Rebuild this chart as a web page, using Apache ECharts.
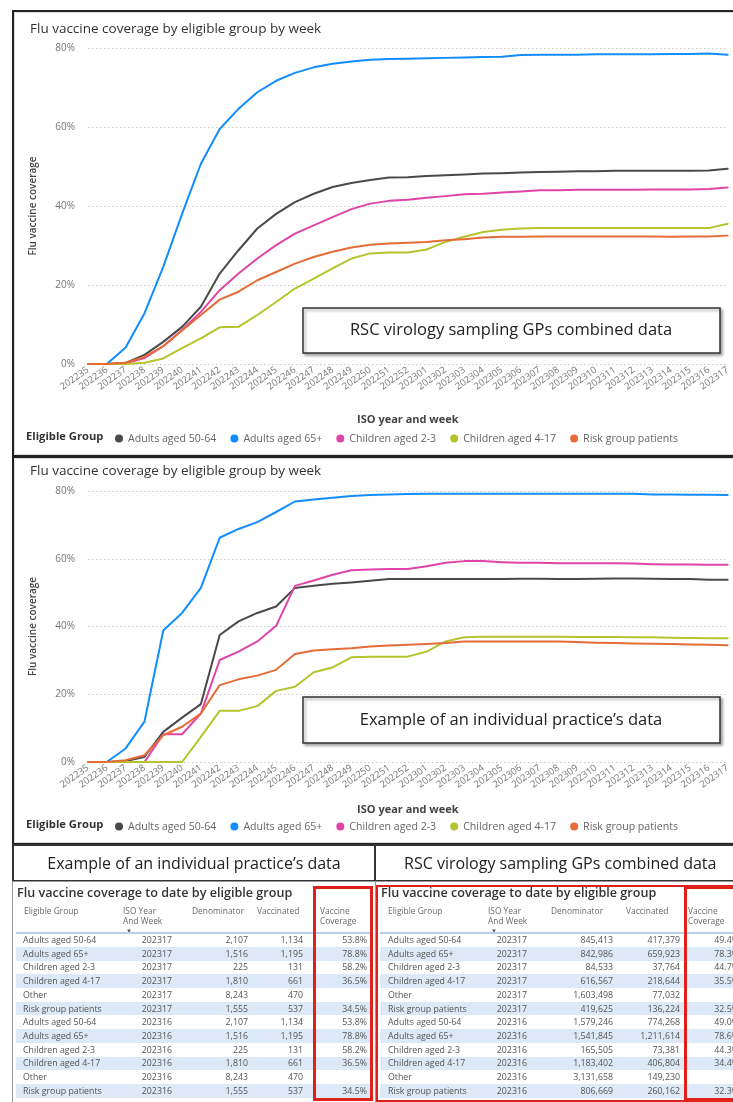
<!DOCTYPE html>
<html><head><meta charset="utf-8">
<script src="https://cdn.jsdelivr.net/npm/echarts@6/dist/echarts.min.js"></script>
<style>
body{margin:0;width:733px;height:1102px;overflow:hidden;position:relative;background:#fff;font-family:'Open Sans',sans-serif;}
.box{position:absolute;box-sizing:border-box;}
.chart{position:absolute;left:0;width:733px;}
.t{position:absolute;white-space:nowrap;font-size:8.8px;color:#555;line-height:10px;}
.h{position:absolute;white-space:nowrap;font-size:8.4px;color:#6a6a6a;line-height:10px;}
</style></head><body>

<div class="box" style="left:12px;top:10px;width:740px;height:447px;border:2px solid #222;box-shadow:inset 0 0 0 1px #ddd;"></div>
<div class="box" style="left:12px;top:456px;width:740px;height:389px;border:2px solid #222;box-shadow:inset 0 0 0 1px #ddd;"></div>

<div id="c1" class="chart" style="top:0;height:456px;"></div>
<div id="c2" class="chart" style="top:456px;height:390px;"></div>

<div class="box" style="left:12px;top:844px;width:364px;height:38px;border:2px solid #333;display:flex;align-items:center;justify-content:center;font-size:16px;font-weight:500;color:#222;">Example of an individual practice’s data</div>
<div class="box" style="left:374px;top:844px;width:380px;height:38px;border:2px solid #333;display:flex;align-items:center;justify-content:flex-start;padding-left:28px;font-size:16px;font-weight:500;color:#222;">RSC virology sampling GPs combined data</div>
<div class="box" style="left:12px;top:881px;width:364px;height:230px;border:1.5px solid #999;"></div>
<div class="box" style="left:375px;top:881px;width:380px;height:230px;border:1.5px solid #999;"></div>

<div id="tables"></div>

<script>
// ---------- chart data ----------
const weeks = ['202235','202236','202237','202238','202239','202240','202241','202242','202243','202244','202245','202246','202247','202248','202249','202250','202251','202252',
  '202301','202302','202303','202304','202305','202306','202307','202308','202309','202310','202311','202312','202313','202314','202315','202316','202317'];
const groups = ['Adults aged 50-64','Adults aged 65+','Children aged 2-3','Children aged 4-17','Risk group patients'];
const colors = ['#4a4a4a','#118DFF','#E044A7','#B5C42C','#E66C37'];
const yTicks = [0,20,40,60,80];

// RSC virology sampling GPs combined data (%)
const combined5064 = [0,0,0.3,2.3,5.6,9.4,14.5,22.9,28.8,34.3,38,41,43.1,44.8,45.8,46.6,47.2,47.3,47.6,47.8,48,48.2,48.3,48.5,48.6,48.7,48.8,48.8,48.9,48.9,48.9,48.9,48.9,49.0,49.4];
const combined65 = [0,0,4.2,12.8,24.6,38,50.7,59.5,64.6,68.8,71.7,73.7,75.1,76,76.6,77,77.2,77.3,77.4,77.5,77.6,77.7,77.8,78.2,78.3,78.3,78.3,78.4,78.4,78.4,78.4,78.5,78.5,78.6,78.3];
const combined23 = [0,0,0.2,1.5,4.5,8.6,13.2,18.7,22.9,26.7,30.1,33,35.1,37.2,39.2,40.6,41.3,41.6,42.1,42.5,43,43.1,43.4,43.7,44,44,44.1,44.1,44.1,44.1,44.2,44.2,44.2,44.3,44.7];
const combined417 = [0,0,0,0.3,1.4,4,6.5,9.3,9.4,12.4,15.7,19.1,21.6,24.2,26.7,28,28.2,28.2,29,30.9,32.2,33.4,34,34.3,34.4,34.4,34.4,34.4,34.4,34.4,34.4,34.4,34.4,34.4,35.5];
const combinedRisk = [0,0,0.3,1.8,4.5,8.5,12.4,16.3,18.3,21.2,23.3,25.4,27.1,28.4,29.5,30.2,30.5,30.7,30.9,31.3,31.6,32,32.2,32.2,32.3,32.3,32.3,32.3,32.3,32.3,32.3,32.2,32.3,32.3,32.5];

// Individual practice data (%)
const practice5064 = [0,0,0.3,1.5,8.9,13.1,17.1,37.5,41.5,44,45.9,51.4,52,52.6,53,53.5,54,54,54,54,54,54,54,54.1,54.1,54,54,54.1,54.2,54.2,54.1,54,54,53.8,53.8];
const practice65 = [0,0,4,11.9,38.8,44,51.4,66.2,68.8,70.8,73.8,76.9,77.5,78,78.5,78.8,79,79.1,79.2,79.2,79.2,79.2,79.2,79.2,79.2,79.2,79.2,79.2,79.2,79.2,79,79,78.9,78.9,78.8];
const practice23 = [0,0,0,0,8.2,8.2,14.3,30.1,32.6,35.6,40.2,52,53.6,55.3,56.6,56.8,57,57,57.8,58.8,59.3,59.3,59,58.8,58.8,58.7,58.7,58.7,58.7,58.6,58.4,58.3,58.3,58.2,58.2];
const practice417 = [0,0,0,0,0,0,7.4,15.1,15.1,16.5,21,22.2,26.5,27.9,30.9,31.1,31.1,31.1,32.6,35.6,36.8,37,37,37,37,37,36.9,36.9,36.9,36.8,36.8,36.7,36.6,36.5,36.5];
const practiceRisk = [0,0,0.5,2,7.9,10.4,14.3,22.7,24.4,25.5,27.2,31.9,32.9,33.3,33.6,34.1,34.4,34.6,34.8,35.1,35.6,35.6,35.6,35.6,35.6,35.6,35.4,35.2,35.1,35,34.9,34.8,34.7,34.6,34.5];

// ---------- table data ----------
const tableGroups = ['Adults aged 50-64','Adults aged 65+','Children aged 2-3','Children aged 4-17','Other','Risk group patients',
  'Adults aged 50-64','Adults aged 65+','Children aged 2-3','Children aged 4-17','Other','Risk group patients'];
const tableWeeks = ['202317','202317','202317','202317','202317','202317','202316','202316','202316','202316','202316','202316'];
const practiceDenominator = [2107,1516,225,1810,8243,1555,2107,1516,225,1810,8243,1555];
const practiceVaccinated = [1134,1195,131,661,470,537,1134,1195,131,661,470,537];
const practiceCoverage = ['53.8%','78.8%','58.2%','36.5%','','34.5%','53.8%','78.8%','58.2%','36.5%','','34.5%'];
const combinedDenominator = [845413,842986,84533,616567,1603498,419625,1579246,1541845,165505,1183402,3131658,806669];
const combinedVaccinated = [417379,659923,37764,218644,77032,136224,774268,1211614,73381,406804,149230,260162];
const combinedCoverage = ['49.4%','78.3%','44.7%','35.5%','','32.5%','49.0%','78.6%','44.3%','34.4%','','32.3%'];

const FONT = "'Open Sans', sans-serif";

function makeOption(series, L) {
  return {
    animation: false,
    textStyle: {fontFamily: FONT},
    title: {text: 'Flu vaccine coverage by eligible group by week', left: 25, top: L.titleTop,
      textStyle: {fontSize: 13.5, fontWeight: 'normal', color: '#333', fontFamily: FONT}},
    grid: {left: 88, width: 642, top: L.gridTop, height: L.gridH},
    legend: {left: 115, top: L.legendTop, icon: 'circle', itemWidth: 8, itemHeight: 8, itemGap: 14, padding: 0,
      textStyle: {fontSize: 10.6, color: '#666', fontFamily: FONT}, data: groups},
    xAxis: {type: 'category', data: weeks, boundaryGap: false,
      axisLine: {show: false}, axisTick: {show: false},
      axisLabel: {rotate: 35, interval: 0, fontSize: 9.5, color: '#777', margin: 5, fontFamily: FONT},
      name: 'ISO year and week', nameLocation: 'middle', nameGap: L.nameGap,
      nameTextStyle: {fontSize: 11, fontWeight: 'bold', color: '#444', fontFamily: FONT}},
    yAxis: {type: 'value', min: yTicks[0], max: yTicks[yTicks.length-1], interval: 20,
      axisLabel: {formatter: '{value}%', fontSize: 10, color: '#777', margin: 13, fontFamily: FONT},
      splitLine: {lineStyle: {type: [1.5, 2.5], color: '#c8c8c8', width: 1}},
      name: 'Flu vaccine coverage', nameLocation: 'middle', nameGap: 50,
      nameTextStyle: {fontSize: 10, fontWeight: 600, color: '#444', fontFamily: FONT}},
    series: series.map((d, i) => ({name: groups[i], type: 'line', data: d, symbol: 'none',
      lineStyle: {width: 2, color: colors[i], cap: 'round', join: 'round'}, itemStyle: {color: colors[i]}})),
    graphic: [
      {type: 'text', left: 26, top: L.legendTop - 1.5, style: {text: 'Eligible Group', fontSize: 11.2, fontWeight: 'bold', fill: '#333', fontFamily: FONT}},
      {type: 'rect', shape: {x: 303, y: L.boxY, width: 417, height: L.boxH},
        style: {fill: '#fff', stroke: '#333', lineWidth: 1.5, shadowBlur: 3, shadowColor: 'rgba(0,0,0,0.35)', shadowOffsetX: 2, shadowOffsetY: 2}, z: 100},
      {type: 'text', x: 511, y: L.boxY + L.boxH/2, z: 101,
        style: {text: L.boxText, fontSize: 16.5, fill: '#222', align: 'center', verticalAlign: 'middle', fontFamily: FONT}}
    ]
  };
}

const c1 = echarts.init(document.getElementById('c1'));
c1.setOption(makeOption([combined5064, combined65, combined23, combined417, combinedRisk],
  {titleTop: 17, gridTop: 48, gridH: 316, legendTop: 433, nameGap: 50, boxY: 308, boxH: 45, boxText: 'RSC virology sampling GPs combined data'}));
const c2 = echarts.init(document.getElementById('c2'));
c2.setOption(makeOption([practice5064, practice65, practice23, practice417, practiceRisk],
  {titleTop: 3, gridTop: 35, gridH: 271, legendTop: 365, nameGap: 42, boxY: 241, boxH: 46, boxText: 'Example of an individual practice’s data'}));

// ---------- tables ----------
const host = document.getElementById('tables');
function add(html){ host.insertAdjacentHTML('beforeend', html); }
function fmt(n){ return n.toLocaleString('en-GB'); }
function buildTable(T, den, vac, cov) {
  add(`<div class="t" style="left:${T.x0+4}px;top:885px;font-size:12.6px;font-weight:600;color:#333;line-height:15px;">Flu vaccine coverage to date by eligible group</div>`);
  add(`<div class="h" style="left:${T.hName}px;top:906px;">Eligible Group</div>`);
  add(`<div class="h" style="left:${T.hIso}px;top:906px;">ISO Year<br>And Week</div>`);
  add(`<div class="h" style="left:${T.hIso+3}px;top:926px;font-size:6px;color:#555;">▼</div>`);
  add(`<div class="h" style="left:${T.hDen}px;top:906px;">Denominator</div>`);
  add(`<div class="h" style="left:${T.hVac}px;top:906px;">Vaccinated</div>`);
  add(`<div class="h" style="left:${T.hCov}px;top:906px;">Vaccine<br>Coverage</div>`);
  add(`<div class="box" style="left:${T.x0+3}px;top:932px;width:${T.w-6}px;height:1.5px;background:#b9cfe9;"></div>`);
  for (let k = 0; k < tableGroups.length; k++) {
    const yc = 940 + 13.7*k, top = yc - 5;
    if (k % 2 === 1) add(`<div class="box" style="left:${T.x0+3}px;top:${yc-6.8}px;width:${T.w-6}px;height:13.7px;background:#dde9f6;"></div>`);
    add(`<div class="t" style="left:${T.vName}px;top:${top}px;">${tableGroups[k]}</div>`);
    add(`<div class="t" style="right:${733-T.vIso}px;top:${top}px;">${tableWeeks[k]}</div>`);
    add(`<div class="t" style="right:${733-T.vDen}px;top:${top}px;">${fmt(den[k])}</div>`);
    add(`<div class="t" style="right:${733-T.vVac}px;top:${top}px;">${fmt(vac[k])}</div>`);
    if (cov[k]) add(`<div class="t" style="left:${T.vCov-40}px;width:40px;text-align:right;top:${top}px;">${cov[k]}</div>`);
  }
}
buildTable({x0: 13, w: 362, hName: 24, hIso: 123, hDen: 192, hVac: 257, hCov: 320, vName: 23, vIso: 172, vDen: 248, vVac: 303, vCov: 367},
  practiceDenominator, practiceVaccinated, practiceCoverage);
buildTable({x0: 377, w: 380, hName: 388, hIso: 488, hDen: 551, hVac: 626, hCov: 688, vName: 388, vIso: 527, vDen: 613, vVac: 680, vCov: 739},
  combinedDenominator, combinedVaccinated, combinedCoverage);

// red highlight boxes
add(`<div class="box" style="left:313px;top:886px;width:60px;height:215px;border:3px solid #e0201b;"></div>`);
add(`<div class="box" style="left:376px;top:885px;width:380px;height:217px;border:2.5px solid #e0201b;"></div>`);
add(`<div class="box" style="left:684px;top:886px;width:70px;height:215px;border:3px solid #e0201b;"></div>`);
</script>
</body></html>
